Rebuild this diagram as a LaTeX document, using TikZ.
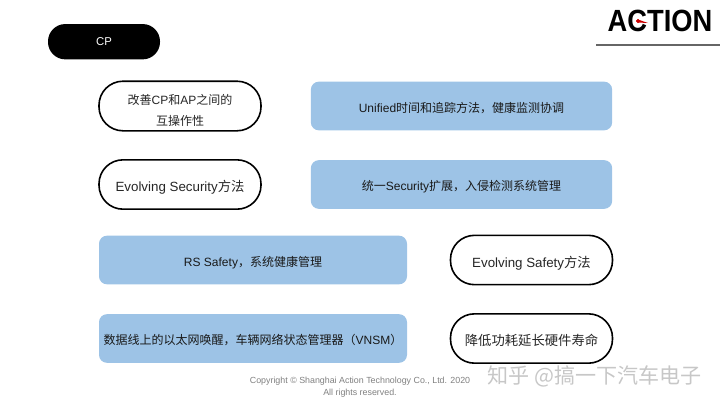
\documentclass[tikz,border=0pt]{standalone}
\usepackage{fontspec}
\setmainfont{Liberation Sans}
\newfontfamily\cjk{Noto Sans CJK SC}
\newcommand{\zh}[1]{{\cjk #1}}
\definecolor{boxblue}{RGB}{157,195,230}
\tikzset{
  pill/.style={draw=black,line width=1.2pt,fill=white,rounded corners=18pt,minimum width=121.5pt,minimum height=37pt,align=center,font=\fontsize{10}{16}\selectfont,text=black!85},
  bluebox/.style={fill=boxblue,rounded corners=6pt,minimum height=36.5pt,text height=9pt,text depth=0pt,font=\fontsize{9}{12}\selectfont,text=black!90}
}

\begin{document}
\begin{tikzpicture}[x=0.75pt,y=-0.75pt]
  \useasboundingbox (0,0) rectangle (720,405);
  \node [fill=black,text=white,rounded corners=13pt,minimum width=84pt,minimum height=26.5pt,font=\fontsize{8.5}{10}\selectfont] (cp) at (104,41.7) {CP};
  \node [font=\fontsize{23}{23}\bfseries\selectfont,xscale=0.89,inner sep=0pt] (logo) at (660,21) {ACTION};
  \draw [color=black!60,line width=1pt] (596,45)--(720,45);
  \fill [color=red!80!black] (638,19.5)--(648,23)--(638,22.5)--cycle;
  \filldraw [color=red!80!black] (638,21) circle [radius=1.8];
  % rounded outlines
  \node [pill,font=\fontsize{9}{15.8}\selectfont] (interop) at (180,106) {\rule{0pt}{14pt}\zh{改善}CP\zh{和}AP\zh{之间的}\\\zh{互操作性}};
  \node [pill,text height=11pt,text depth=0pt] (security) at (180,184.5) {Evolving Security\zh{方法}};
  \node [pill,text height=11pt,text depth=0pt] (safety) at (531.5,260) {Evolving Safety\zh{方法}};
  \node [pill,text height=11pt,text depth=0pt] (power) at (531.5,338.5) {\zh{降低功耗延长硬件寿命}};
  % blue boxes
  \node [bluebox,minimum width=226pt] (unified) at (461.5,106) {Unified\zh{时间和追踪方法，健康监测协调}};
  \node [bluebox,minimum width=226pt] (extend) at (461.5,184.5) {\zh{统一}Security\zh{扩展，入侵检测系统管理}};
  \node [bluebox,minimum width=231pt] (rs) at (253,260) {RS Safety\zh{，系统健康管理}};
  \node [bluebox,minimum width=231pt] (vnsm) at (253,338.5) {\zh{数据线上的以太网唤醒，车辆网络状态管理器（}VNSM\zh{）}};
  % footer
  \node [align=center,text=black!50,font=\fontsize{6.65}{8.6}\selectfont] (copy) at (360,387) {Copyright © Shanghai Action Technology Co., Ltd. 2020\\All rights reserved.};
  \node [text=black!22,font=\fontsize{15.8}{15.8}\selectfont] (mark) at (594.5,376) {\zh{知乎 @搞一下汽车电子}};
\end{tikzpicture}
\end{document}
